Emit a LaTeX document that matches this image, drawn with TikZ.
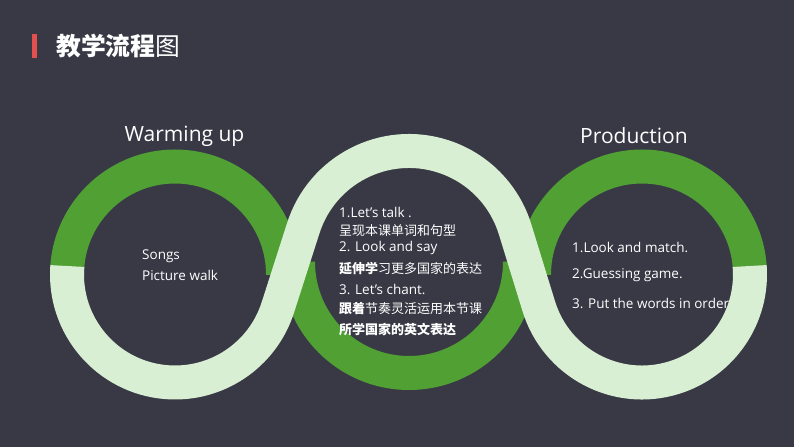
\documentclass[tikz,border=0pt]{standalone}
\usepackage{fontspec}
\setmainfont{Open Sans}
\newfontfamily\cjk{Noto Sans CJK SC}
\usetikzlibrary{calc}
\definecolor{bg}{HTML}{393946}
\definecolor{ringgreen}{HTML}{50A034}
\definecolor{ringlight}{HTML}{D9EFD3}
\definecolor{barred}{HTML}{E5504F}
\tikzset{
  band/.style={line width=34pt, line cap=butt},
  txt/.style={text=white, inner sep=0pt, anchor=west, font=\fontsize{13.5}{15}\selectfont},
  ctxt/.style={text=white, inner sep=0pt, anchor=west, font=\cjk\fontsize{13}{15}\selectfont},
  head/.style={text=white, inner sep=0pt, font=\fontsize{21}{24}\selectfont}
}
\begin{document}
\begin{tikzpicture}[x=1pt,y=1pt]
\fill[bg] (0,0) rectangle (794,447);
\useasboundingbox (0,0) rectangle (794,447);
\coordinate (A) at (175,172.5);
\coordinate (B) at (409,185);
\coordinate (C) at (642,172.5);
% title
\fill[barred] (32,389) rectangle (37,413);
\node[text=white, inner sep=0pt, anchor=west, font=\cjk\fontsize{24.8}{27}\selectfont] (title) at (56,401) {\bfseries 教学流程\mdseries 图};
% green halves
\draw[band, ringgreen] ($(A)+(0:108)$) arc[start angle=0, end angle=180, radius=108];
\draw[band, ringgreen] ($(B)+(180:111)$) arc[start angle=180, end angle=360, radius=111];
\draw[band, ringgreen] ($(C)+(0:108)$) arc[start angle=0, end angle=180, radius=108];
% texts
\node[txt] (s1) at (142,191) {Songs};
\node[txt] (s2) at (142,172) {Picture walk};
\node[txt] (m1) at (339,235) {1.Let's talk .};
\node[ctxt] (m2) at (339,216) {呈现本课单词和句型};
\node[txt] (m3) at (339,199) {2. Look and say};
\node[ctxt] (m4) at (339,178) {\bfseries 延伸学\mdseries 习更多国家的表达};
\node[txt] (m5) at (339,158) {3. Let's chant.};
\node[ctxt] (m6) at (339,138) {\bfseries 跟着\mdseries 节奏灵活运用本节课};
\node[ctxt] (m7) at (339,117) {\bfseries 所学国家的英文表达};
\node[txt] (r1) at (572,200) {1.Look and match.};
\node[txt] (r2) at (572,172) {2.Guessing game.};
\node[txt] (r3) at (572,144) {3. Put the words in order};
% light S band
\draw[band, ringlight] ($(A)+(175.5:108)$) arc[start angle=175.5, end angle=342.23, radius=108]
  -- ++(25.45,79.34) arc[start angle=162.23, end angle=17.12, radius=111]
  -- ++(23.71,-76.97) arc[start angle=197.12, end angle=364.5, radius=108];
% headings
\node[head] (h1) at (184.5,311) {Warming up};
\node[head] (h2) at (634,311) {Production};
\end{tikzpicture}
\end{document}
